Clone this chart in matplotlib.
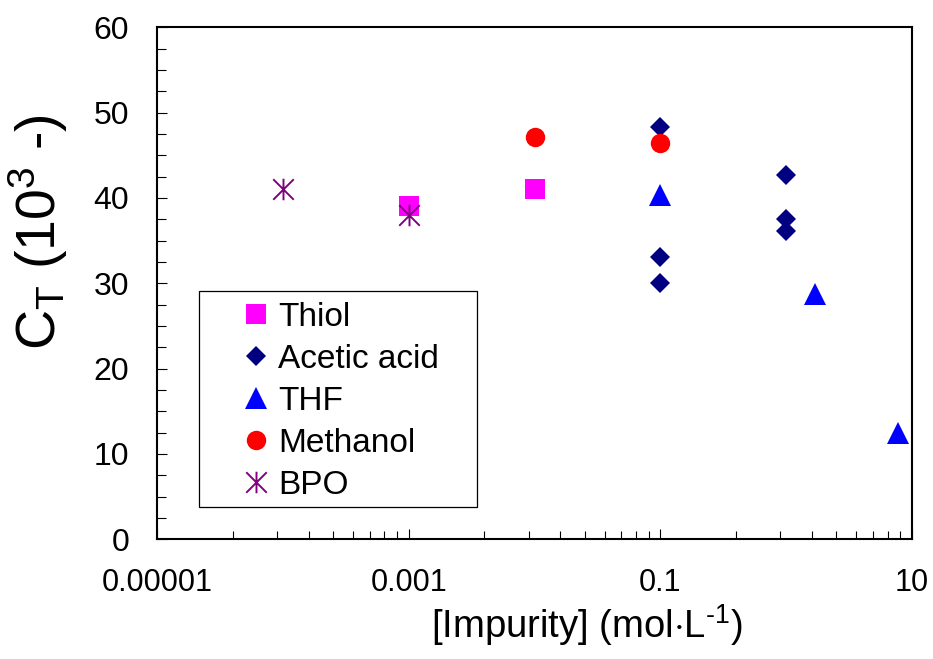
import matplotlib
matplotlib.use("Agg")
import matplotlib.pyplot as plt
import numpy as np
from matplotlib.path import Path
from matplotlib.ticker import FixedLocator, NullFormatter, FixedFormatter, MultipleLocator
from matplotlib.patches import Rectangle

plt.rcParams['font.family'] = ['Liberation Sans', 'DejaVu Sans']
plt.rcParams['mathtext.fontset'] = 'custom'
plt.rcParams['mathtext.rm'] = 'Liberation Sans'
plt.rcParams['mathtext.it'] = 'Liberation Sans:italic'

# ---- data ----
thiol_x = [1e-3, 1e-2]
thiol_y = [39.1, 41.1]
acetic_x = [0.1, 0.1, 0.1, 1.0, 1.0, 1.0]
acetic_y = [48.3, 33.1, 30.0, 42.7, 37.5, 36.1]
thf_x = [0.1, 1.7, 7.7]
thf_y = [40.3, 28.8, 12.5]
methanol_x = [1e-2, 0.1]
methanol_y = [47.1, 46.4]
bpo_x = [1e-4, 1e-3]
bpo_y = [41.0, 38.0]

xtick_vals = [1e-5, 1e-3, 1e-1, 10]
xtick_labels = ['0.00001', '0.001', '0.1', '10']

W, H = 933, 659
fig = plt.figure(figsize=(W / 100, H / 100), dpi=100)
ax = fig.add_axes([157 / W, 1 - 539.3 / H, (912 - 157) / W, (539.3 - 27.3) / H])

# asterisk marker: X with vertical bar
star = Path([(-1, -1), (1, 1), (-1, 1), (1, -1), (0, -1.05), (0, 1.05)],
            [Path.MOVETO, Path.LINETO, Path.MOVETO, Path.LINETO, Path.MOVETO, Path.LINETO])

ax.plot(thiol_x, thiol_y, ls='none', marker='s', ms=14.2, color='#FF00FF', mec='#FF00FF', mew=0, label='Thiol', zorder=3)
ax.plot(acetic_x, acetic_y, ls='none', marker='D', ms=10.4, color='#000080', mec='#000080', mew=0, label='Acetic acid', zorder=2)
ax.plot(thf_x, thf_y, ls='none', marker='^', ms=15.8, color='#0000FF', mec='#0000FF', mew=0, label='THF', zorder=2)
ax.plot(methanol_x, methanol_y, ls='none', marker='o', ms=14.0, color='#FF0000', mec='#FF0000', mew=0, label='Methanol', zorder=3)
ax.plot(bpo_x, bpo_y, ls='none', marker=star, ms=15.5, color='#800080', mec='#800080', mew=1.4, mfc='none', label='BPO', zorder=4)

ax.set_xscale('log')
ax.set_xlim(1e-5, 10)
ax.set_ylim(0, 60)

ax.xaxis.set_major_locator(FixedLocator(xtick_vals))
ax.xaxis.set_major_formatter(FixedFormatter(xtick_labels))
minor = [1e-5 * 100 ** n * k ** 2 for n in range(3) for k in range(2, 10)]
ax.xaxis.set_minor_locator(FixedLocator(minor))
ax.xaxis.set_minor_formatter(NullFormatter())

ax.yaxis.set_major_locator(MultipleLocator(10))
ax.yaxis.set_minor_locator(MultipleLocator(2.5))

ax.tick_params(axis='both', which='both', direction='in', top=False, right=False, color='black')
ax.tick_params(axis='x', which='major', length=7.2, width=0.8, pad=20.5, labelsize=22)
ax.tick_params(axis='x', which='minor', length=5.8, width=0.8)
ax.tick_params(axis='y', which='major', length=7.2, width=0.8, pad=20, labelsize=23)
ax.tick_params(axis='y', which='minor', length=6.2, width=0.8)

for s in ax.spines.values():
    s.set_linewidth(1.5)
    s.set_color('black')

fig.text(587 / W, 1 - 638 / H, r'[Impurity] (mol$\cdot$L$^{\text{-1}}$)', ha='center', va='baseline', fontsize=27.5)
fig.text(38 / W, 1 - 232 / H, r'C$_{\mathregular{T}}$ (10$^{\mathregular{3}}$ -)', rotation=90, ha='center', va='center', fontsize=40)

# legend
fs = 24
leg = ax.legend(loc='center left', bbox_to_anchor=(243 / W, 1 - 401 / H), bbox_transform=fig.transFigure,
                frameon=False, numpoints=1, fontsize=fs, handlelength=0.75, handletextpad=0.3,
                labelspacing=0.33, borderpad=0, borderaxespad=0)
fig.patches.append(Rectangle((199 / W, 1 - 507.3 / H), (477.3 - 199) / W, (507.3 - 291) / H,
                             transform=fig.transFigure, fill=False, edgecolor='black', linewidth=0.9, zorder=5))

fig.savefig('out.png', dpi=100)
